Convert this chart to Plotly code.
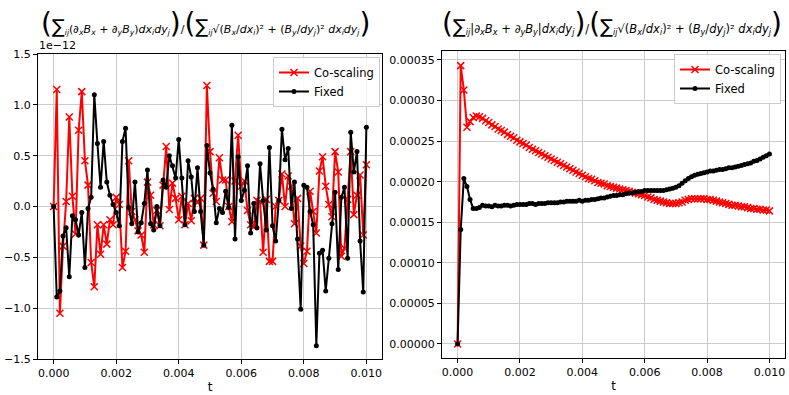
import numpy as np
import plotly.graph_objects as go

# time grid (dt = 1e-4)
t = [i * 1e-4 for i in range(101)]

# left panel: signed divergence (units of 1e-12)
div_coscaling = [
    0, 1.15, -1.05, -0.39, 0.05, 0.88, 0.10, -0.27, 0.75, 1.13,
    0.45, 0.21, -0.55, -0.79, -0.18, -0.47, -0.18, -0.37, -0.13, -0.18,
    0.09, 0.02, -0.60, -0.44, 0.45, -0.05, -0.13, -0.24, -0.28, -0.45,
    0.24, 0.11, -0.18, -0.04, -0.19, 0.21, 0.59, -0.03, 0.23, 0.08,
    -0.13, 0.10, -0.18, 0.03, -0.14, 0.08, 0.04, 0.08, -0.38, 1.19,
    0.54, 0.13, 0.05, 0.48, 0.26, 0.26, 0.00, -0.15, 0.25, 0.70,
    0.20, 0.25, -0.04, -0.18, -0.20, 0.06, 0.05, -0.45, 0.07, -0.54,
    -0.54, 0.00, 0.06, 0.32, 0.00, 0.30, 0.20, -0.17, 0.08, -0.39,
    -0.56, -0.44, 0.15, -0.05, -0.26, 0.35, 0.49, 0.20, 0.02, -0.10,
    0.54, 0.34, -0.49, -0.41, 0.07, 0.54, -0.08, 0.11, 0.31, -0.28,
    0.41,
]
div_fixed = [
    0, -0.89, -0.83, -0.29, -0.21, -0.69, -0.09, -0.13, -0.28, -0.06,
    -0.60, -0.02, 0.09, 1.10, 0.62, 0.19, 0.64, 0.24, 0.11, 0.02,
    -0.06, -0.19, 0.64, 0.77, -0.01, -0.17, 0.24, -0.25, -0.16, 0.03,
    0.36, -0.17, -0.23, 0.00, -0.19, 0.26, 0.19, 0.50, 0.40, 0.28,
    0.66, 0.28, -0.18, 0.45, 0.29, -0.05, 0.38, -0.05, -0.38, 0.60,
    0.33, 0.17, -0.16, -0.02, -0.06, 0.15, -0.01, 0.80, -0.32, 0.49,
    0.06, 0.16, 0.40, -0.26, 0.03, -0.21, 0.42, 0.06, -0.23, 0.58,
    -0.19, -0.34, 0.06, 0.76, 0.46, 0.57, -0.02, 0.24, -0.32, -1.01,
    0.21, 0.19, -0.05, -0.18, -1.37, -0.46, -0.43, -0.83, -0.51, -0.17,
    0.14, -0.62, 0.09, 0.19, -0.51, 0.73, 0.34, 0.54, -0.34, -0.84,
    0.78,
]

# right panel: absolute divergence (units of 1e-4)
abs_coscaling = [
    0, 3.43, 3.13, 2.67, 2.74, 2.79, 2.81, 2.80, 2.78, 2.75,
    2.73, 2.70, 2.68, 2.65, 2.63, 2.61, 2.58, 2.56, 2.54, 2.51,
    2.49, 2.47, 2.45, 2.42, 2.40, 2.38, 2.36, 2.34, 2.32, 2.30,
    2.28, 2.26, 2.24, 2.22, 2.20, 2.18, 2.16, 2.14, 2.12, 2.10,
    2.08, 2.06, 2.04, 2.03, 2.01, 1.99, 1.98, 1.97, 1.95, 1.94,
    1.93, 1.92, 1.91, 1.90, 1.89, 1.88, 1.87, 1.86, 1.85, 1.84,
    1.83, 1.81, 1.80, 1.78, 1.77, 1.76, 1.75, 1.74, 1.73, 1.73,
    1.73, 1.74, 1.75, 1.77, 1.78, 1.79, 1.79, 1.79, 1.79, 1.79,
    1.78, 1.78, 1.77, 1.76, 1.75, 1.74, 1.73, 1.72, 1.71, 1.71,
    1.70, 1.69, 1.69, 1.68, 1.67, 1.67, 1.66, 1.66, 1.65, 1.65,
    1.64,
]
abs_fixed = [
    0, 1.41, 2.04, 1.94, 1.78, 1.67, 1.67, 1.68, 1.71, 1.70,
    1.70, 1.69, 1.71, 1.70, 1.70, 1.71, 1.71, 1.70, 1.71, 1.72,
    1.72, 1.72, 1.72, 1.73, 1.73, 1.72, 1.73, 1.73, 1.73, 1.74,
    1.74, 1.74, 1.74, 1.75, 1.75, 1.76, 1.76, 1.76, 1.76, 1.77,
    1.76, 1.77, 1.77, 1.78, 1.78, 1.79, 1.80, 1.80, 1.81, 1.82,
    1.83, 1.83, 1.84, 1.84, 1.85, 1.86, 1.86, 1.87, 1.88, 1.88,
    1.89, 1.89, 1.89, 1.89, 1.89, 1.89, 1.89, 1.90, 1.91, 1.92,
    1.93, 1.95, 1.98, 2.01, 2.04, 2.06, 2.08, 2.09, 2.10, 2.11,
    2.12, 2.13, 2.13, 2.14, 2.15, 2.15, 2.16, 2.17, 2.17, 2.18,
    2.19, 2.20, 2.21, 2.22, 2.23, 2.25, 2.26, 2.28, 2.30, 2.32,
    2.34,
]

x_ticks = [0, 0.002, 0.004, 0.006, 0.008, 0.010]
left_yticks = [-1.5, -1.0, -0.5, 0.0, 0.5, 1.0, 1.5]
right_yticks = [0, 0.00005, 0.0001, 0.00015, 0.0002, 0.00025, 0.0003, 0.00035]

FONT = "DejaVu Sans"
W, H = 789, 395


def px(x):
    return x / W


def py(y):
    return 1 - y / H


fig = go.Figure()

red_style = dict(mode="lines+markers", line=dict(color="red", width=2),
                 marker=dict(symbol="x-thin", size=7, color="red",
                             line=dict(color="red", width=1.5)))
blk_style = dict(mode="lines+markers", line=dict(color="black", width=2),
                 marker=dict(symbol="circle", size=5, color="black"))

fig.add_trace(go.Scatter(x=t, y=div_coscaling, name="Co-scaling", xaxis="x", yaxis="y",
                         legend="legend", **red_style))
fig.add_trace(go.Scatter(x=t, y=div_fixed, name="Fixed", xaxis="x", yaxis="y",
                         legend="legend", **blk_style))
fig.add_trace(go.Scatter(x=t, y=[v * 1e-4 for v in abs_coscaling], name="Co-scaling",
                         xaxis="x2", yaxis="y2", legend="legend2", **red_style))
fig.add_trace(go.Scatter(x=t, y=[v * 1e-4 for v in abs_fixed], name="Fixed",
                         xaxis="x2", yaxis="y2", legend="legend2", **blk_style))

axis_common = dict(showline=True, mirror=True, linecolor="black", linewidth=1,
                   ticks="outside", ticklen=4, tickcolor="black", automargin=False,
                   showgrid=True, gridcolor="#cccccc", gridwidth=1, zeroline=False,
                   tickfont=dict(family=FONT, size=11, color="black"))

fig.update_layout(
    template="none",
    width=W, height=H,
    margin=dict(l=0, r=0, t=0, b=0, pad=0),
    plot_bgcolor="white", paper_bgcolor="white",
    font=dict(family=FONT, color="black"),
    xaxis=dict(domain=[px(38), px(382)], range=[-0.0005, 0.0105], tickvals=x_ticks,
               tickformat=".3f", anchor="y",
               title=dict(text="t", standoff=3, font=dict(size=12)), **axis_common),
    yaxis=dict(domain=[py(359), py(54)], range=[-1.5, 1.5], tickvals=left_yticks,
               tickformat=".1f", anchor="x", **axis_common),
    xaxis2=dict(domain=[px(442), px(785)], range=[-0.0005, 0.0105], tickvals=x_ticks,
                tickformat=".3f", anchor="y2",
                title=dict(text="t", standoff=3, font=dict(size=12)), **axis_common),
    yaxis2=dict(domain=[py(358), py(51)], range=[-0.0000173, 0.000361],
                tickvals=right_yticks, tickformat=".5f", anchor="x2", **axis_common),
    legend=dict(x=px(380), y=py(57), xanchor="right", yanchor="top",
                bgcolor="rgba(255,255,255,0.85)", bordercolor="#cccccc", borderwidth=1,
                font=dict(family=FONT, size=11.5), itemwidth=30, tracegroupgap=0),
    legend2=dict(x=px(781), y=py(54), xanchor="right", yanchor="top",
                 bgcolor="rgba(255,255,255,0.85)", bordercolor="#cccccc", borderwidth=1,
                 font=dict(family=FONT, size=11.5), itemwidth=30, tracegroupgap=0),
    showlegend=True,
)

BIG = '<span style="font-size:28px">'
SUM = '<span style="font-size:19px">∑</span>'
denom = (BIG + "(</span>" + SUM + "<sub><i>ij</i></sub>"
         "√(<i>B<sub>x</sub></i>/<i>dx<sub>i</sub></i>)² + "
         "(<i>B<sub>y</sub></i>/<i>dy<sub>j</sub></i>)² "
         "<i>dx<sub>i</sub>dy<sub>j</sub></i>" + BIG + ")</span>")
left_title = (BIG + "(</span>" + SUM + "<sub><i>ij</i></sub>"
              "(∂<sub><i>x</i></sub><i>B<sub>x</sub></i> + ∂<sub><i>y</i></sub><i>B<sub>y</sub></i>)"
              "<i>dx<sub>i</sub>dy<sub>j</sub></i>" + BIG + ")</span>/" + denom)
right_title = (BIG + "(</span>" + SUM + "<sub><i>ij</i></sub>"
               "|∂<sub><i>x</i></sub><i>B<sub>x</sub></i> + ∂<sub><i>y</i></sub><i>B<sub>y</sub></i>|"
               "<i>dx<sub>i</sub>dy<sub>j</sub></i>" + BIG + ")</span>/" + denom)

fig.add_annotation(text=left_title, xref="paper", yref="paper", x=px(206), y=py(24),
                   showarrow=False, font=dict(family=FONT, size=11), xanchor="center",
                   yanchor="middle")
fig.add_annotation(text=right_title, xref="paper", yref="paper", x=px(612), y=py(24),
                   showarrow=False, font=dict(family=FONT, size=11.5), xanchor="center",
                   yanchor="middle")
fig.add_annotation(text="1e−12", xref="paper", yref="paper", x=px(37), y=py(54),
                   showarrow=False, font=dict(family=FONT, size=11), xanchor="left",
                   yanchor="bottom")

# drop the default page margin so the figure fills the 789x395 window
fig.write_html("out.html", config={"displayModeBar": False},
               post_script="document.body.style.margin='0';"
                           "document.body.style.overflow='hidden';")
